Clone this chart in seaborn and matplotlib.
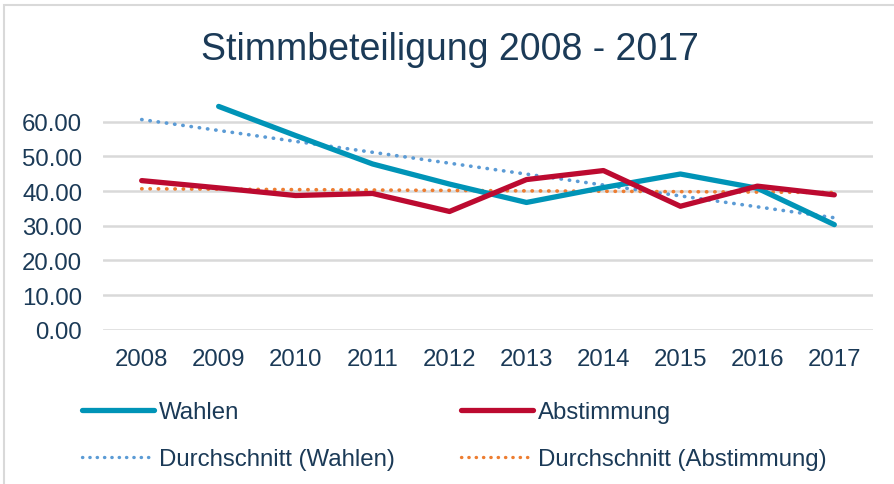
import numpy as np
import pandas as pd
import matplotlib
matplotlib.use("Agg")
import matplotlib.pyplot as plt
from matplotlib.patches import Rectangle
from matplotlib.lines import Line2D
import seaborn as sns

years = ["2008", "2009", "2010", "2011", "2012", "2013", "2014", "2015", "2016", "2017"]
wahlen = [np.nan, 64.4, 56.0, 47.8, 42.0, 36.7, 41.0, 44.9, 40.8, 30.3]
abstimmung = [43.0, 40.9, 38.7, 39.3, 34.1, 43.3, 45.9, 35.6, 41.4, 38.9]
y_ticks = [0, 10, 20, 30, 40, 50, 60]
title = "Stimmbeteiligung 2008 - 2017"
labels = ["Wahlen", "Abstimmung", "Durchschnitt (Wahlen)", "Durchschnitt (Abstimmung)"]

c_w = "#0094B7"
c_a = "#BC0A30"
c_tw = "#5B9BD5"
c_ta = "#ED7D31"
txt = "#1B3A57"

sns.set_theme(style="white")
plt.rcParams["font.family"] = ["Liberation Sans", "DejaVu Sans"]

idx = np.arange(len(years))


def trend(vals):
    v = np.array(vals, dtype=float)
    m = ~np.isnan(v)
    k, b = np.polyfit(idx[m], v[m], 1)
    return k * idx + b


df = pd.DataFrame({
    "x": np.concatenate([idx] * 4),
    "y": np.concatenate([wahlen, abstimmung, trend(wahlen), trend(abstimmung)]),
    "s": np.repeat(labels, len(years)),
})

fig = plt.figure(figsize=(8.94, 4.85), dpi=100)
ax = fig.add_axes([103.2 / 894, 154.3 / 485, 769.6 / 894, 242.7 / 485])

for yv in y_ticks:
    ax.axhline(yv, color="#D9D9D9", lw=1.8, zorder=0)

dots = (0, (0.1, 2.2))
d = df[df.s == labels[2]]
sns.lineplot(data=d, x="x", y="y", ax=ax, color=c_tw, lw=2.6, linestyle=dots, zorder=2)
d = df[df.s == labels[3]]
sns.lineplot(data=d, x="x", y="y", ax=ax, color=c_ta, lw=2.6, linestyle=dots, zorder=2)
d = df[df.s == labels[0]].dropna()
sns.lineplot(data=d, x="x", y="y", ax=ax, color=c_w, lw=3.8, solid_capstyle="round",
             solid_joinstyle="round", zorder=3)
d = df[df.s == labels[1]]
sns.lineplot(data=d, x="x", y="y", ax=ax, color=c_a, lw=3.8, solid_capstyle="round",
             solid_joinstyle="round", zorder=4)
for l in ax.lines:
    l.set_dash_capstyle("round")

ax.set_xlim(-0.5, len(years) - 0.5)
ax.set_ylim(0, 70)
ax.set_xticks(idx)
ax.set_xticklabels(years)
ax.set_yticks(y_ticks)
ax.set_yticklabels([f"{v:.2f}" for v in y_ticks])
ax.tick_params(axis="both", length=0, labelsize=17.3, colors=txt)
ax.tick_params(axis="y", pad=15)
ax.tick_params(axis="x", pad=13)
ax.set_xlabel("")
ax.set_ylabel("")
for s in ax.spines.values():
    s.set_visible(False)
ax.patch.set_alpha(0)

fig.text(450 / 894, 1 - 50 / 485, title, ha="center", va="center", fontsize=27, color=txt)

fig.patches.append(Rectangle((4 / 894, -0.1), 2, 1.1 - 6 / 485, transform=fig.transFigure,
                             fill=False, edgecolor="#D9D9D9", lw=1.5, zorder=-1))

h_w = Line2D([], [], color=c_w, lw=3.8, solid_capstyle="round")
h_a = Line2D([], [], color=c_a, lw=3.8, solid_capstyle="round")
h_tw = Line2D([], [], color=c_tw, lw=2.4, linestyle=(0, (0.1, 2.1)), dash_capstyle="round")
h_ta = Line2D([], [], color=c_ta, lw=2.4, linestyle=(0, (0.1, 2.1)), dash_capstyle="round")

common = dict(frameon=False, fontsize=17.3, handlelength=3.0, handletextpad=0.22,
              labelspacing=1.05, borderpad=0, borderaxespad=0, labelcolor=txt, loc="upper left")
fig.legend([h_w, h_tw], [labels[0], labels[2]], bbox_to_anchor=(82 / 894, 1 - 402 / 485), **common)
fig.legend([h_a, h_ta], [labels[1], labels[3]], bbox_to_anchor=(461 / 894, 1 - 402 / 485), **common)

fig.savefig("out.png", dpi=100)
